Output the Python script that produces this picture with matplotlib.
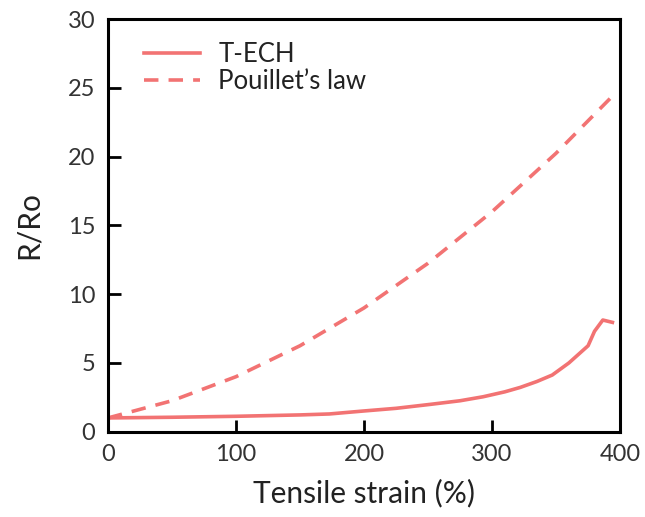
import matplotlib
matplotlib.use("Agg")
import matplotlib.pyplot as plt

plt.rcParams['font.family'] = ['Lato', 'DejaVu Sans']

# Data
tech_strain = [0, 50, 100, 150, 173, 199, 225, 252, 275, 293, 310, 322, 335, 347, 360, 375, 380, 386.5, 394]
tech_ratio = [1.0, 1.05, 1.12, 1.22, 1.29, 1.5, 1.7, 1.99, 2.25, 2.54, 2.9, 3.22, 3.65, 4.12, 5.0, 6.25, 7.3, 8.12, 7.95]

pouillet_strain = [0, 50, 100, 150, 200, 250, 300, 350, 394]
pouillet_ratio = [1.0, 2.25, 4.0, 6.25, 9.0, 12.25, 16.0, 20.25, 24.4]

x_ticks = [0, 100, 200, 300, 400]
y_ticks = [0, 5, 10, 15, 20, 25, 30]

color = '#f27373'

fig = plt.figure(figsize=(6.45, 5.17), dpi=100)
ax = fig.add_axes([0.1674, 0.165, 0.794, 0.798])

ax.plot(tech_strain, tech_ratio, color=color, lw=2.6, label='T-ECH')
ax.plot(pouillet_strain, pouillet_ratio, color=color, lw=2.6, dashes=(4, 2.8), label='Pouillet\u2019s law')

ax.set_xlim(0, 400)
ax.set_ylim(0, 30)
ax.set_xticks(x_ticks)
ax.set_yticks(y_ticks)
ax.tick_params(direction='in', length=9, width=2, labelsize=17, labelcolor='#333333', pad=9,
               top=False, right=False)
for s in ax.spines.values():
    s.set_linewidth(2.2)

ax.set_xlabel('Tensile strain (%)', fontsize=21.5, color='#222222', labelpad=10)
ax.set_ylabel('R/Ro', fontsize=21.5, color='#222222', labelpad=18)

leg = ax.legend(loc='upper left', bbox_to_anchor=(0.025, 1.0), frameon=False, fontsize=18.5,
                handlelength=2.2, borderaxespad=0.5, borderpad=0.4, labelspacing=0.05,
                handletextpad=0.7)
for t in leg.get_texts():
    t.set_color('#222222')

fig.savefig('out.png', dpi=100)
